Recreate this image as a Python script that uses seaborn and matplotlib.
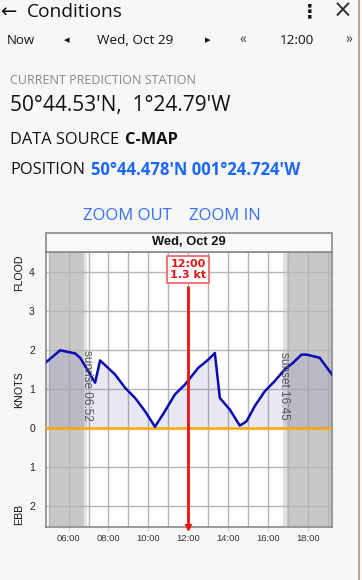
import matplotlib
matplotlib.use("Agg")
import matplotlib.pyplot as plt
import seaborn as sns
import pandas as pd
from matplotlib.patches import Rectangle

# ---- data ----
hours = [4.88, 5.58, 6.33, 6.58, 7.33, 7.58, 8.33, 8.83, 9.33, 9.83, 10.33, 10.83,
         11.33, 11.83, 12.5, 13.0, 13.33, 13.58, 14.08, 14.58, 14.92, 15.33, 15.83,
         16.33, 16.83, 17.25, 17.67, 17.92, 18.58, 19.2]
knots = [1.68, 1.98, 1.90, 1.79, 1.15, 1.72, 1.36, 1.02, 0.76, 0.42, 0.02, 0.42,
         0.85, 1.10, 1.53, 1.74, 1.91, 0.76, 0.46, 0.05, 0.16, 0.55, 0.93,
         1.19, 1.49, 1.66, 1.87, 1.87, 1.79, 1.36]
tick_hours = [6, 8, 10, 12, 14, 16, 18]
tick_labels = ["06:00", "08:00", "10:00", "12:00", "14:00", "16:00", "18:00"]
knot_ticks = [-2, -1, 0, 1, 2, 3, 4]
knot_labels = ["2", "1", "0", "1", "2", "3", "4"]
sunrise, sunset = 6 + 52 / 60, 16 + 45 / 60
now_hour, now_speed = 12.0, 1.3
day_label = "Wed, Oct 29"

df = pd.DataFrame({"hour": hours, "knots": knots})

W, H = 362, 580
BG = "#f7f7f7"
fig = plt.figure(figsize=(W / 100, H / 100), dpi=100, facecolor=BG)

def fx(x):
    return x / W

def fy(y):
    return 1 - y / H

UI = ["Open Sans", "DejaVu Sans"]
AR = ["Liberation Sans", "DejaVu Sans"]

# ---- header UI ----
fig.text(fx(0), fy(12), "\u2190", fontsize=14, family=["DejaVu Sans"], va="center", color="#111")
fig.text(fx(27), fy(12), "Conditions", fontsize=13.8, family=UI, va="center", color="#111")
fig.text(fx(310), fy(12), "\u22ee", fontsize=14, family=["DejaVu Sans"], fontweight="bold",
         va="center", ha="center", color="#111")
fig.text(fx(343), fy(11), "\u00d7", fontsize=17, family=["DejaVu Sans"], va="center",
         ha="center", color="#333")

row = 40
fig.text(fx(7), fy(row), "Now", fontsize=9.5, family=UI, va="center", color="#111")
fig.text(fx(67), fy(row), "\u25c2", fontsize=8, family=["DejaVu Sans"], va="center", ha="center", color="#111")
fig.text(fx(135), fy(row), day_label, fontsize=9.7, family=UI, va="center", ha="center", color="#111")
fig.text(fx(208), fy(row), "\u25b8", fontsize=8, family=["DejaVu Sans"], va="center", ha="center", color="#111")
fig.text(fx(243), fy(row), "\u00ab", fontsize=10, family=UI, va="center", ha="center", color="#444")
fig.text(fx(297), fy(row), "12:00", fontsize=9.7, family=UI, va="center", ha="center", color="#111")
fig.text(fx(349), fy(row), "\u00bb", fontsize=10, family=UI, va="center", ha="center", color="#444")

fig.text(fx(10), fy(81), "CURRENT PREDICTION STATION", fontsize=9, family=UI, va="center", color="#888")
fig.text(fx(10), fy(106), "50\u00b044.53'N,  1\u00b024.79'W", fontsize=15, family=UI, va="center", color="#111")
fig.text(fx(10), fy(140), "DATA SOURCE", fontsize=11.8, family=UI, va="center", color="#111")
fig.text(fx(125), fy(140), "C-MAP", fontsize=11.8, family=UI, fontweight="bold", va="center", color="#111")
fig.text(fx(10), fy(170), "POSITION", fontsize=11.8, family=UI, va="center", color="#111")
fig.text(fx(91), fy(170), "50\u00b044.478'N 001\u00b024.724'W", fontsize=12, family=UI,
         fontweight="bold", va="center", color="#1a66ff")
fig.text(fx(127), fy(216), "ZOOM OUT", fontsize=12, family=UI, va="center", ha="center", color="#3370ff")
fig.text(fx(225), fy(216), "ZOOM IN", fontsize=12, family=UI, va="center", ha="center", color="#3370ff")

# right edge strip
fig.add_artist(plt.Line2D([fx(359), fx(359)], [0, 1], color="#a89a80", lw=1.2))

# ---- chart ----
L, R, T, B = 46, 332, 252, 527
ax = fig.add_axes([fx(L), fy(B), fx(R - L), (B - T) / H])
ax.set_facecolor("white")

# header box over the chart
fig.add_artist(Rectangle((fx(L), fy(T)), fx(R - L), (T - 233) / H, facecolor="#f8f8f8",
                         edgecolor="#8a8a8a", lw=1.2, transform=fig.transFigure))
fig.text(fx((L + R) / 2), fy(242), day_label, fontsize=9.3, family=AR, fontweight="bold",
         ha="center", va="center", color="#111")

x0, x1 = 4.87, 19.2
ax.set_xlim(x0, x1)
ax.set_ylim(-2.55, 4.5)

# night shading
ax.axvspan(5.0, sunrise - 0.07, color="#c8c8c8", lw=0, zorder=0)
ax.axvspan(sunrise - 0.07, sunrise + 0.05, color="#e4e4e4", lw=0, zorder=0)
ax.axvspan(sunset, sunset + 0.2, color="#e0e0e0", lw=0, zorder=0)
ax.axvspan(sunset + 0.2, x1, color="#c8c8c8", lw=0, zorder=0)

# grid
for h in range(5, 20):
    ax.axvline(h, color="#b4b4b4", lw=1, zorder=1)
for k in knot_ticks:
    ax.axhline(k, color="#b4b4b4", lw=1, zorder=1)

ax.fill_between(df["hour"], 0, df["knots"], color="#6a6ac0", alpha=0.15, lw=0, zorder=2)
sns.lineplot(data=df, x="hour", y="knots", ax=ax, color="#0a0ab4", lw=1.8, zorder=4)
ax.axhline(0, color="#ffa500", lw=1.8, zorder=3)

ax.text(sunrise + 0.05, 2.0, "sunrise 06:52", rotation=270, ha="center", va="top",
        fontsize=8.5, family=AR, color="#555", zorder=5)
ax.text(sunset + 0.06, 1.93, "sunset 16:45", rotation=270, ha="center", va="top",
        fontsize=8.5, family=AR, color="#555", zorder=5)

# now marker
ax.plot([now_hour, now_hour], [-2.55, 3.64], color="#ee1111", lw=2, zorder=6, solid_capstyle="butt")
ax.plot([now_hour], [-2.55], marker="v", color="#ee1111", ms=5, zorder=7, clip_on=False)
ax.text(now_hour, 4.05, "12:00\n%.1f kt" % now_speed, ha="center", va="center", fontsize=8,
        family=["DejaVu Sans"], fontweight="bold", color="#ee1111", linespacing=1.1, zorder=8,
        bbox=dict(boxstyle="square,pad=0.25", fc="white", ec="#ff5a5a", lw=1.2))

ax.set_xticks(tick_hours)
ax.set_xticklabels(tick_labels, fontsize=6.8, family=AR, color="#333")
ax.set_yticks(knot_ticks)
ax.set_yticklabels(knot_labels, fontsize=7.5, family=AR, color="#222")
ax.tick_params(axis="x", length=3, color="#cccccc", pad=2)
ax.tick_params(axis="y", length=0, pad=8)
ax.set_xlabel("")
ax.set_ylabel("")
for s in ax.spines.values():
    s.set_color("#8a8a8a")
    s.set_linewidth(1.2)

fig.text(fx(19), fy(273), "FLOOD", rotation=90, fontsize=7.7, family=AR, ha="center", va="center", color="#111")
fig.text(fx(19), fy(390), "KNOTS", rotation=90, fontsize=7.7, family=AR, ha="center", va="center", color="#111")
fig.text(fx(19), fy(514), "EBB", rotation=90, fontsize=7.7, family=AR, ha="center", va="center", color="#111")

fig.savefig("out.png", dpi=100, facecolor=BG)
